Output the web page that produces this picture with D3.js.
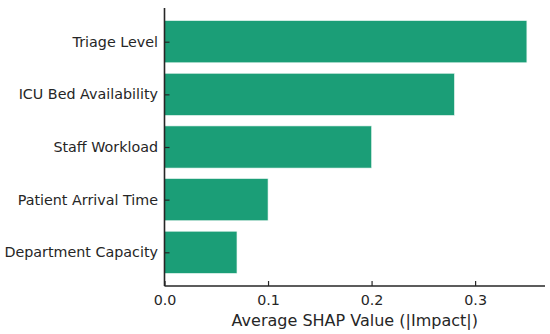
<!DOCTYPE html>
<html>
<head>
<meta charset="utf-8">
<script src="https://cdn.jsdelivr.net/npm/d3@7"></script>
<style>
  body { margin: 0; background: #fff; }
  svg { font-family: "DejaVu Sans", sans-serif; }
</style>
</head>
<body>
<div id="chart"></div>
<script>
const features = ["Triage Level", "ICU Bed Availability", "Staff Workload", "Patient Arrival Time", "Department Capacity"];
const shapValues = [0.35, 0.28, 0.20, 0.10, 0.07];
const xTicks = [0.0, 0.1, 0.2, 0.3];

const width = 550, height = 334;
const margin = { top: 8, right: 5, bottom: 48, left: 164.5 };
const innerW = width - margin.left - margin.right;
const innerH = height - margin.top - margin.bottom;

const svg = d3.select("#chart").append("svg")
  .attr("width", width)
  .attr("height", height);

const g = svg.append("g")
  .attr("transform", `translate(${margin.left},${margin.top})`);

const x = d3.scaleLinear()
  .domain([0, d3.max(shapValues) * 1.05])
  .range([0, innerW]);

// categorical positions like matplotlib barh: index 0 at the top
const n = features.length;
const y = d3.scaleLinear()
  .domain([-0.64, n - 1 + 0.64])
  .range([0, innerH]);

const barH = y(0.8) - y(0);

g.selectAll("rect.bar")
  .data(features)
  .enter()
  .append("rect")
  .attr("class", "bar")
  .attr("x", x(0))
  .attr("y", (d, i) => y(i) - barH / 2)
  .attr("width", (d, i) => x(shapValues[i]) - x(0))
  .attr("height", barH)
  .attr("fill", "#1b9e77")
  .attr("stroke", "#e8f5f0")
  .attr("stroke-width", 0.6);

// y axis (ticks inward)
const yAxis = g.append("g")
  .call(d3.axisLeft(d3.scaleOrdinal().domain(features).range(features.map((d, i) => y(i))))
    .tickSizeInner(-5).tickSizeOuter(0).tickPadding(6.5))
  .attr("font-family", "DejaVu Sans")
  .attr("font-size", 14.3);
yAxis.select(".domain").remove();
yAxis.selectAll("text").attr("fill", "#262626");
yAxis.selectAll("line").attr("stroke", "#262626").attr("stroke-width", 1.2);

// x axis
const xAxis = g.append("g")
  .attr("transform", `translate(0,${innerH})`)
  .call(d3.axisBottom(x).tickValues(xTicks).tickFormat(d3.format(".1f"))
    .tickSizeInner(-5).tickSizeOuter(0).tickPadding(9))
  .attr("font-family", "DejaVu Sans")
  .attr("font-size", 14.3);
xAxis.select(".domain").remove();
xAxis.selectAll("text").attr("fill", "#262626");
xAxis.selectAll("line").attr("stroke", "#262626").attr("stroke-width", 1.2);

// spines: left and bottom
g.append("line")
  .attr("x1", 0).attr("x2", 0).attr("y1", 0).attr("y2", innerH)
  .attr("stroke", "#262626").attr("stroke-width", 1.6);
g.append("line")
  .attr("x1", 0).attr("x2", innerW).attr("y1", innerH).attr("y2", innerH)
  .attr("stroke", "#262626").attr("stroke-width", 1.6);

svg.append("text")
  .attr("x", margin.left + (innerW) / 2)
  .attr("y", 326)
  .attr("text-anchor", "middle")
  .attr("font-size", 16)
  .attr("fill", "#262626")
  .text("Average SHAP Value (|Impact|)");
</script>
</body>
</html>
